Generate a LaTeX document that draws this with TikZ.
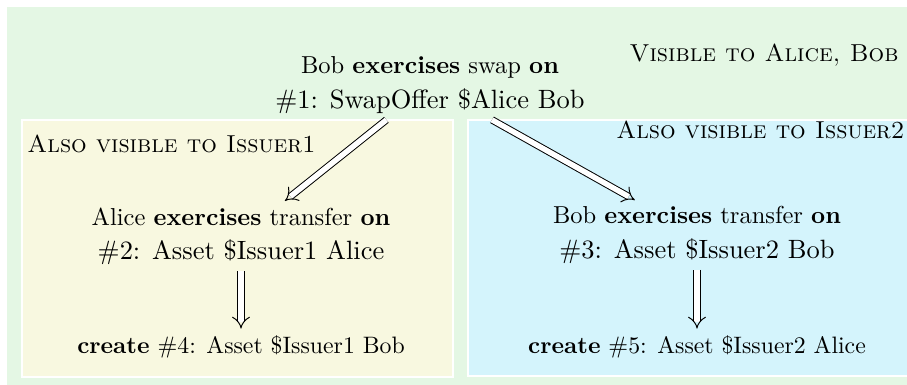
\documentclass[tikz,border=0pt]{standalone}
\usetikzlibrary{arrows.meta}
\definecolor{bggreen}{HTML}{E4F7E4}
\definecolor{bgyellow}{HTML}{F8F8E0}
\definecolor{bgcyan}{HTML}{D4F4FC}
\newcommand{\reflabel}{\fontsize{10.8}{13}\selectfont}
\newcommand{\createfont}{\fontsize{9.7}{12}\selectfont}
\begin{document}
\begin{tikzpicture}[x=0.408pt,y=-0.408pt,
  act/.style={align=center, inner sep=2.5pt},
  leaf/.style={inner sep=2.5pt, anchor=base, font=\createfont},
  zonelabel/.style={inner sep=0pt, font=\scshape},
  arr/.style={double, double distance=2.2pt, line width=0.4pt, -{Implies[length=5pt,width=10pt]}},
  zone/.style={draw=white, line width=1pt}]
\clip (0,0) rectangle (907,384);
\fill[bggreen] (7,7) rectangle (920,400);
\path[zone, fill=bgyellow] (22,120) rectangle (453,377);
\path[zone, fill=bgcyan] (468,120) rectangle (920,376);
\node[zonelabel, anchor=base east] (lab0) at (899,61) {Visible to Alice, Bob};
\node[zonelabel, anchor=base west] (lab1) at (27,152) {Also visible to Issuer1};
\node[zonelabel, anchor=base east] (lab2) at (905,138) {Also visible to Issuer2};
\node[act] (n1) at (430,85) {Bob \textbf{exercises} swap \textbf{on}\\[2pt]{\reflabel\#1: SwapOffer \$Alice Bob}};
\node[act] (n2) at (241,236) {Alice \textbf{exercises} transfer \textbf{on}\\[2pt]{\reflabel\#2: Asset \$Issuer1 Alice}};
\node[act] (n3) at (697,235) {Bob \textbf{exercises} transfer \textbf{on}\\[2pt]{\reflabel\#3: Asset \$Issuer2 Bob}};
\node[leaf] (n4) at (241,353) {\textbf{create} \#4: Asset \$Issuer1 Bob};
\node[leaf] (n5) at (697,353) {\textbf{create} \#5: Asset \$Issuer2 Alice};
\draw[arr] (n1) -- (n2);
\draw[arr] (n1) -- (n3);
\draw[arr] (n2) -- (n4);
\draw[arr] (n3) -- (n5);
\end{tikzpicture}
\end{document}
